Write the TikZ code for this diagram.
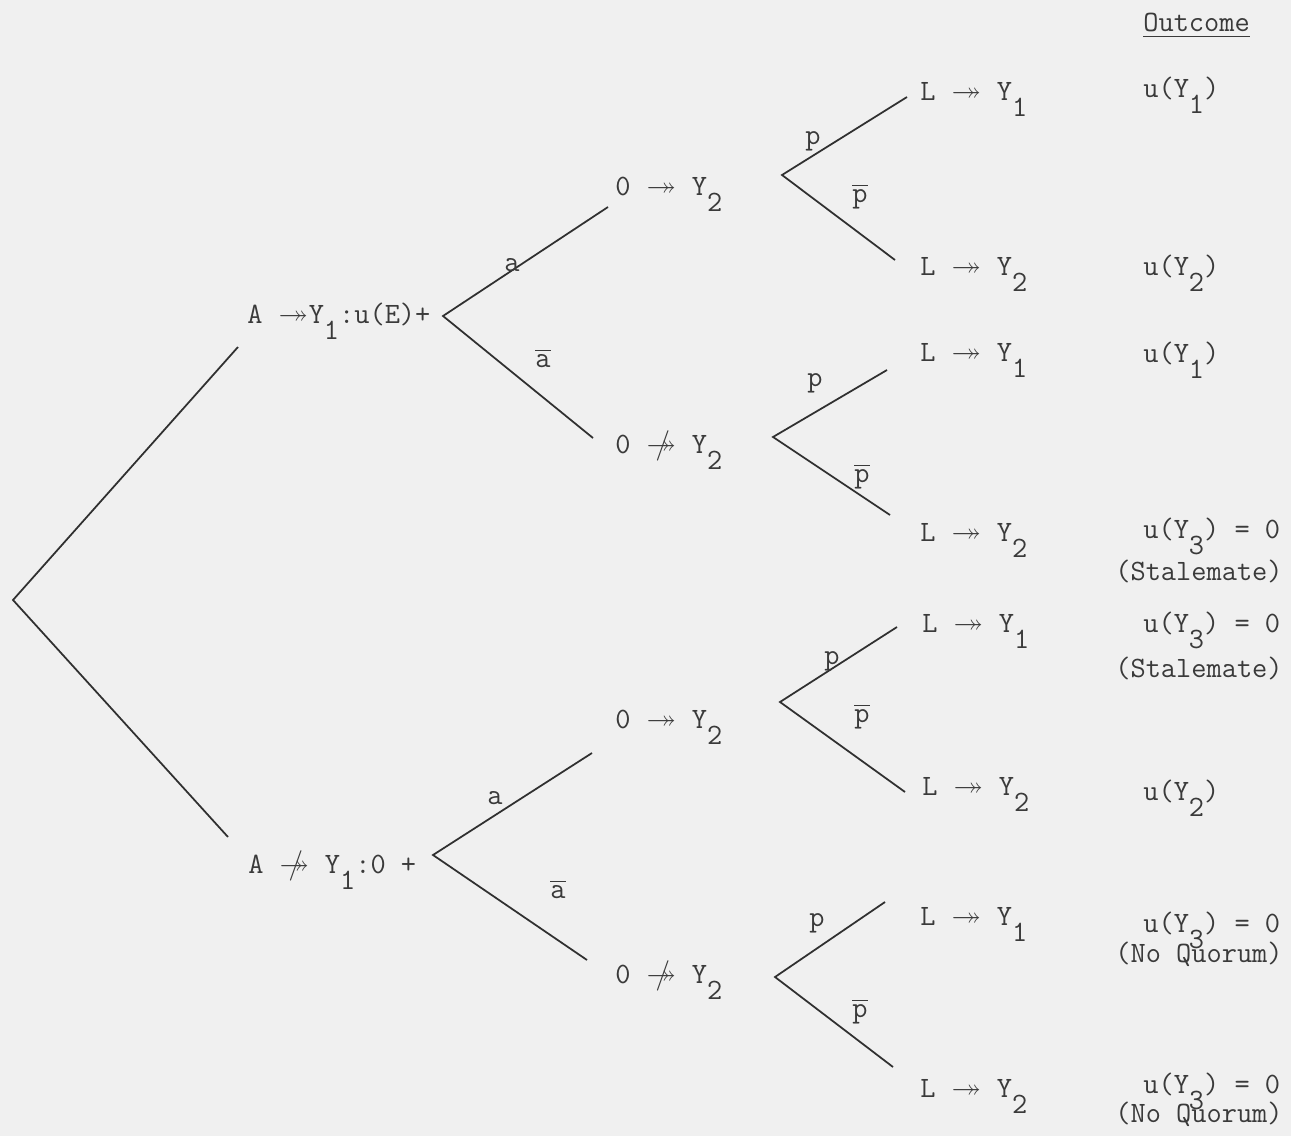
\documentclass[tikz,border=0pt]{standalone}
\usepackage{amssymb}
\definecolor{Bgcol}{HTML}{F0F0F0}
\definecolor{Textcol}{HTML}{3A3A3A}
\definecolor{Linecol}{HTML}{303030}
\usetikzlibrary{positioning}
\newcommand{\tto}{\makebox[1.05em]{$\twoheadrightarrow$}}
\newcommand{\ntto}{\makebox[1.05em]{\rlap{\kern0.3em$/$}$\twoheadrightarrow$}}
\newcommand{\sub}[1]{\raisebox{-0.55em}{#1}}
\newcommand{\ov}[1]{$\overline{\mbox{#1}}$}
\tikzset{
    font=\ttfamily\fontsize{16.8}{20}\selectfont,
    txt/.style={anchor=base west, inner sep=0pt, text=Textcol},
    lbl/.style={inner sep=0pt, text=Textcol},
    branch/.style={Linecol, line width=1pt}
}

\begin{document}
\begin{tikzpicture}[x=0.2mm, y=-0.2mm]
    % Background
    \fill[Bgcol] (0,0) rectangle (1291,1136);
    \useasboundingbox (0,0) rectangle (1291,1136);

    % Vertices
    \coordinate (root) at (13,600);
    \coordinate (vA) at (443,316);
    \coordinate (vB) at (433,855);
    \coordinate (vAa) at (782,175);
    \coordinate (vAn) at (773,437);
    \coordinate (vBa) at (780,702);
    \coordinate (vBn) at (775,977);

    % Branch ends
    \coordinate (eA) at (238,347);
    \coordinate (eB) at (228,837);
    \coordinate (eAa) at (608,207);
    \coordinate (eAn) at (593,438);
    \coordinate (eBa) at (592,753);
    \coordinate (eBn) at (587,960);
    \coordinate (eAa1) at (907,97);
    \coordinate (eAa2) at (895,260);
    \coordinate (eAn1) at (887,370);
    \coordinate (eAn2) at (890,515);
    \coordinate (eBa1) at (897,627);
    \coordinate (eBa2) at (905,792);
    \coordinate (eBn1) at (885,902);
    \coordinate (eBn2) at (893,1067);

    % Branches
    \draw[branch] (eA) -- (root) -- (eB);
    \draw[branch] (eAa) -- (vA) -- (eAn);
    \draw[branch] (eBa) -- (vB) -- (eBn);
    \draw[branch] (eAa1) -- (vAa) -- (eAa2);
    \draw[branch] (eAn1) -- (vAn) -- (eAn2);
    \draw[branch] (eBa1) -- (vBa) -- (eBa2);
    \draw[branch] (eBn1) -- (vBn) -- (eBn2);

    % Branch labels
    \node[lbl] (la1) at (512,265) {a};
    \node[lbl] (la2) at (543,358) {\ov{a}};
    \node[lbl] (la3) at (495,798) {a};
    \node[lbl] (la4) at (558,889) {\ov{a}};
    \node[lbl] (lp1) at (813,141) {p};
    \node[lbl] (lq1) at (860,196) {\ov{p}};
    \node[lbl] (lp2) at (815,383) {p};
    \node[lbl] (lq2) at (862,476) {\ov{p}};
    \node[lbl] (lp3) at (832,661) {p};
    \node[lbl] (lq3) at (862,716) {\ov{p}};
    \node[lbl] (lp4) at (817,923) {p};
    \node[lbl] (lq4) at (860,1011) {\ov{p}};

    % Choices of A
    \node[txt] (A1) at (247,323) {A \tto{}Y\sub{1}:u(E)+};
    \node[txt] (A2) at (248,873) {A \ntto{} Y\sub{1}:0 +};

    % Choices of O
    \node[txt] (O1) at (615,195) {0 \tto{} Y\sub{2}};
    \node[txt] (O2) at (615,453) {0 \ntto{} Y\sub{2}};
    \node[txt] (O3) at (615,728) {0 \tto{} Y\sub{2}};
    \node[txt] (O4) at (615,983) {0 \ntto{} Y\sub{2}};

    % Choices of L
    \node[txt] (L1) at (920,100) {L \tto{} Y\sub{1}};
    \node[txt] (L2) at (920,275) {L \tto{} Y\sub{2}};
    \node[txt] (L3) at (920,361) {L \tto{} Y\sub{1}};
    \node[txt] (L4) at (920,541) {L \tto{} Y\sub{2}};
    \node[txt] (L5) at (922,632) {L \tto{} Y\sub{1}};
    \node[txt] (L6) at (922,795) {L \tto{} Y\sub{2}};
    \node[txt] (L7) at (920,925) {L \tto{} Y\sub{1}};
    \node[txt] (L8) at (920,1097) {L \tto{} Y\sub{2}};

    % Outcomes
    \node[txt] (head) at (1143,32) {\underline{Outcome}};
    \node[txt] (u1) at (1143,97) {u(Y\sub{1})};
    \node[txt] (u2) at (1143,275) {u(Y\sub{2})};
    \node[txt] (u3) at (1143,362) {u(Y\sub{1})};
    \node[txt] (u4) at (1143,538) {u(Y\sub{3}) = 0};
    \node[txt] (s4) at (1115,580) {(Stalemate)};
    \node[txt] (u5) at (1143,632) {u(Y\sub{3}) = 0};
    \node[txt] (s5) at (1115,677) {(Stalemate)};
    \node[txt] (u6) at (1143,800) {u(Y\sub{2})};
    \node[txt] (u7) at (1143,932) {u(Y\sub{3}) = 0};
    \node[txt] (s7) at (1115,962) {(No Quorum)};
    \node[txt] (u8) at (1143,1093) {u(Y\sub{3}) = 0};
    \node[txt] (s8) at (1115,1122) {(No Quorum)};
\end{tikzpicture}
\end{document}
